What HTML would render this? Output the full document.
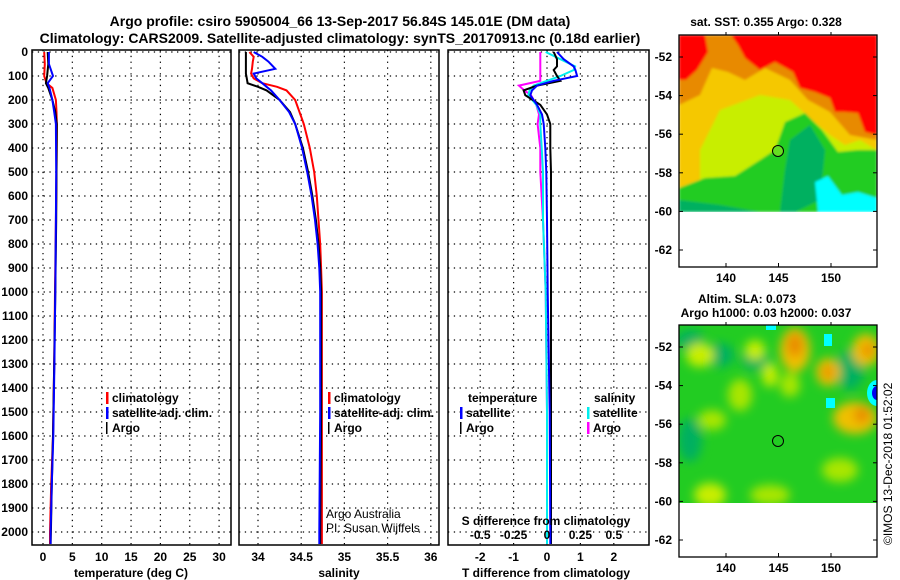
<!DOCTYPE html>
<html><head><meta charset="utf-8"><style>
body{margin:0;background:#fff}
svg{display:block;font-family:"Liberation Sans",sans-serif;font-weight:bold}
</style></head><body>
<svg id="s" width="900" height="580" viewBox="0 0 900 580" xmlns="http://www.w3.org/2000/svg">
<defs>
<filter id="bl" x="-50%" y="-50%" width="200%" height="200%"><feGaussianBlur stdDeviation="5"/></filter>
<filter id="bl2"><feGaussianBlur stdDeviation="1.2"/></filter>
<clipPath id="c1"><rect x="679" y="35" width="198" height="177"/></clipPath>
<clipPath id="c2"><rect x="679" y="325" width="198" height="178"/></clipPath>
</defs>
<text x="340" y="26" text-anchor="middle" font-size="14">Argo profile: csiro 5905004_66 13-Sep-2017 56.84S 145.01E (DM data)</text>
<text x="340" y="43" text-anchor="middle" font-size="14">Climatology: CARS2009. Satellite-adjusted climatology: synTS_20170913.nc (0.18d earlier)</text>

<g>
<g clip-path="url(#c1)" filter="url(#bl2)">
<rect x="679" y="35" width="198" height="177" fill="#e88a00"/>
<polygon fill="#f5c800" points="679,105 700,95 712,68 728,72 745,80 765,68 790,80 808,100 830,112 850,135 877,140 877,180 679,192"/>
<polygon fill="#c8ee00" points="700,150 720,110 760,95 790,100 812,120 830,135 845,145 860,140 877,150 877,185 760,175 700,185"/>
<polygon fill="#22cc22" points="679,188 705,178 735,176 760,160 775,150 785,122 805,113 822,130 838,152 858,150 877,150 877,212 679,212"/>
<polygon fill="#00b060" points="790,140 810,125 825,150 820,200 795,212 780,212 785,170"/>
<polygon fill="#00b060" points="679,200 720,205 760,212 679,212"/>
<polygon fill="#00ffff" points="815,182 828,176 842,195 858,192 877,198 877,212 818,212"/>
<polygon fill="#ff0000" points="731,35 877,35 877,135 865,132 858,113 845,112 835,112 830,98 815,92 800,88 793,72 775,62 760,70 745,58 738,45"/>
<polygon fill="#ff0000" points="679,35 705,35 708,52 697,70 686,80 679,80"/>
</g>
<rect x="679" y="212" width="198" height="55" fill="#fff"/>
<circle cx="778" cy="151" r="5.5" fill="#66dd22" stroke="#000" stroke-width="1"/>
<rect x="679" y="35" width="198" height="232" fill="none" stroke="#000" stroke-width="1.3"/>
<text x="766" y="26" text-anchor="middle" font-size="12">sat. SST: 0.355 Argo: 0.328</text>
</g>

<g>
<g clip-path="url(#c2)">
<rect x="679" y="325" width="198" height="178" fill="#22cc22"/>
<g filter="url(#bl)">
<ellipse cx="690" cy="340" rx="14" ry="10" fill="#00b060"/>
<ellipse cx="720" cy="355" rx="14" ry="12" fill="#00b060"/>
<ellipse cx="755" cy="360" rx="14" ry="10" fill="#00b060"/>
<ellipse cx="690" cy="440" rx="12" ry="22" fill="#00b060"/>
<ellipse cx="850" cy="370" rx="14" ry="20" fill="#00b060"/>
<ellipse cx="700" cy="355" rx="14" ry="12" fill="#c8ee00"/>
<ellipse cx="755" cy="350" rx="10" ry="10" fill="#c8ee00"/>
<ellipse cx="770" cy="375" rx="8" ry="12" fill="#c8ee00"/>
<ellipse cx="740" cy="395" rx="12" ry="16" fill="#a8e600"/>
<ellipse cx="712" cy="420" rx="14" ry="10" fill="#a8e600"/>
<ellipse cx="790" cy="385" rx="10" ry="12" fill="#a8e600"/>
<ellipse cx="710" cy="495" rx="16" ry="12" fill="#c8ee00"/>
<ellipse cx="770" cy="495" rx="20" ry="10" fill="#a8e600"/>
<ellipse cx="840" cy="470" rx="18" ry="12" fill="#a8e600"/>
<ellipse cx="795" cy="350" rx="15" ry="22" fill="#f0c000"/>
<ellipse cx="795" cy="345" rx="8" ry="12" fill="#e88a00"/>
<ellipse cx="828" cy="372" rx="12" ry="14" fill="#f0c000"/>
<ellipse cx="828" cy="372" rx="6" ry="7" fill="#e89000"/>
<ellipse cx="866" cy="350" rx="14" ry="16" fill="#f0c000"/>
<ellipse cx="868" cy="350" rx="6" ry="7" fill="#e88a00"/>
<ellipse cx="855" cy="418" rx="22" ry="16" fill="#f0c000"/>
<ellipse cx="862" cy="415" rx="8" ry="8" fill="#e88a00"/>
</g>
<rect x="824" y="334" width="8" height="12" fill="#00ffff"/>
<rect x="826" y="398" width="9" height="10" fill="#00ffff"/>
<rect x="766" y="325" width="10" height="5" fill="#00ffff"/>
<ellipse cx="877" cy="393" rx="10" ry="13" fill="#00ffff"/>
<ellipse cx="877" cy="393" rx="5" ry="7" fill="#0000ee"/>
</g>
<rect x="679" y="503" width="198" height="54" fill="#fff"/>
<circle cx="778" cy="441" r="5.5" fill="#22cc22" stroke="#000" stroke-width="1"/>
<rect x="679" y="325" width="198" height="232" fill="none" stroke="#000" stroke-width="1.3"/>
<text x="747" y="303" text-anchor="middle" font-size="12">Altim. SLA: 0.073</text>
<text x="766" y="317" text-anchor="middle" font-size="12">Argo h1000: 0.03 h2000: 0.037</text>
</g>
<text transform="translate(892,545) rotate(-90)" font-size="12" font-weight="normal">©IMOS 13-Dec-2018 01:52:02</text>
<g id="dyn"></g>
</svg>
<script>
const depthT = [0,50,100,130,150,200,250,300,500,700,1000,1300,1600,1800,2000,2050];
const argoT =  [0.8,0.9,0.7,0.5,0.9,1.6,2.1,2.35,2.3,2.25,2.1,1.9,1.7,1.5,1.35,1.3];
const climT =  [0.2,0.3,0.2,0.6,1.6,2.2,2.3,2.35,2.3,2.2,2.05,1.9,1.7,1.4,1.2,1.2];
const satT =   [1.0,1.0,1.7,0.8,1.1,1.6,1.9,2.2,2.25,2.2,2.1,1.95,1.75,1.5,1.3,1.3];
const depthS = [0,20,40,70,90,110,130,145,160,200,250,300,400,500,600,700,800,900,1000,1500,2000,2050];
const argoS =  [33.86,33.86,33.86,33.86,33.86,33.87,33.88,34.0,34.1,34.25,34.37,34.43,34.52,34.58,34.63,34.67,34.70,34.72,34.73,34.73,34.72,34.72];
const climS =  [33.90,33.95,33.94,33.93,33.92,33.95,34.05,34.22,34.33,34.43,34.48,34.53,34.60,34.65,34.68,34.70,34.72,34.73,34.74,34.74,34.74,34.74];
const satS =   [33.95,34.05,34.12,34.2,33.95,33.98,34.05,34.1,34.15,34.25,34.36,34.43,34.51,34.57,34.62,34.66,34.69,34.71,34.72,34.72,34.71,34.71];
const depthD = [0,30,60,75,100,120,140,160,180,220,260,300,400,500,700,1000,1500,2000,2050];
const dTargo = [0.2,0.3,0.3,0.2,0.3,0.4,-0.3,-0.7,-0.65,-0.2,0.0,0.1,0.1,0.12,0.12,0.12,0.12,0.12,0.12];
const dTsat =  [0.3,0.5,0.8,0.85,0.9,0.2,-0.3,-0.45,-0.5,-0.3,-0.15,-0.1,-0.05,-0.02,0.0,0.02,0.08,0.1,0.1];
const dSsat =  [-0.01,0.1,0.21,0.2,0.1,0.0,-0.1,-0.13,-0.14,-0.08,-0.05,-0.05,-0.04,-0.03,-0.03,-0.01,0.0,0.0,0.0];
const dSargo = [-0.05,-0.05,-0.05,-0.05,-0.05,-0.05,-0.21,-0.17,-0.12,-0.08,-0.06,-0.07,-0.05,-0.05,-0.03,-0.01,0.0,0.0,0.0];
const depthTicks = [0,100,200,300,400,500,600,700,800,900,1000,1100,1200,1300,1400,1500,1600,1700,1800,1900,2000];
const tTicks = [0,5,10,15,20,25,30];
const sTicks = [34,34.5,35,35.5,36];
const dTTicks = [-2,-1,0,1,2];
const dSTicks = ["-0.5","-0.25","0","0.25","0.5"];
const latTicks = [-52,-54,-56,-58,-60,-62];
const lonTicks = [140,145,150];

const NS="http://www.w3.org/2000/svg";
const root=document.getElementById('dyn');
function mk(tag,a,parent){const e=document.createElementNS(NS,tag);for(const k in a)e.setAttribute(k,a[k]);(parent||root).appendChild(e);return e;}
function txt(x,y,s,size,anchor,parent){const e=mk('text',{x:x,y:y,'font-size':size,'text-anchor':anchor||'middle'},parent);e.textContent=s;return e;}

const Y=d=>52+d*0.24;
const TOP=50,BOT=545;
const xT=v=>43+v*5.87;
const xS=v=>258+(v-34)*86.4;
const xDT=v=>547+v*33.4;
const xDS=v=>547+v*133.6;

function panel(x0,x1,name,vgrid){
  const g=mk('g',{});
  
  
  depthTicks.forEach(d=>{const l=mk('line',{x1:x0,x2:x1,y1:Y(d),y2:Y(d),stroke:'#000','stroke-dasharray':'1.3,4.5','stroke-width':1.2},g);
    
    });
  vgrid.forEach(x=>{const l=mk('line',{x1:x,x2:x,y1:TOP,y2:BOT,stroke:'#000','stroke-dasharray':'1.3,4.5','stroke-width':1.2},g);
    
    });
  return g;
}
function frame(x0,x1,name){
  const r=mk('rect',{x:x0,y:TOP,width:x1-x0,height:BOT-TOP,fill:'none',stroke:'#000','stroke-width':1.5});
  
  
}
function line(xs,ds,xf,color,w,name){
  const pts=xs.map((v,i)=>xf(v).toFixed(1)+','+Y(ds[i]).toFixed(1)).join(' ');
  const p=mk('polyline',{points:pts,fill:'none',stroke:color,'stroke-width':w});
  
  
}
function legend(x,y,items){
  items.forEach((it,i)=>{
    const b=mk('rect',{x:x,y:y+i*15-10,width:it[2]||2.5,height:12,fill:it[0]});
    
    
    const t=txt(x+6,y+i*15,it[1],12,'start');
    
    
  });
}

panel(32,231,'temperature-grid',tTicks.map(xT));
line(climT,depthT,xT,'#f00',2,'temperature-climatology-line');
line(argoT,depthT,xT,'#000',2,'temperature-argo-line');
line(satT,depthT,xT,'#00f',2,'temperature-satellite-line');
frame(32,231,'temperature-axes');
depthTicks.forEach(d=>{const t=txt(28,Y(d)+4,String(d),12,'end');
  
  });
tTicks.forEach(v=>{const t=txt(xT(v),561,String(v),12);
  
  });
let t1=txt(131,577,'temperature (deg C)',12);


legend(106,402,[['#f00','climatology'],['#00f','satellite-adj. clim.'],['#000','Argo',1.5]]);

panel(239,439,'salinity-grid',sTicks.map(xS));
line(climS,depthS,xS,'#f00',2,'salinity-climatology-line');
line(argoS,depthS,xS,'#000',2,'salinity-argo-line');
line(satS,depthS,xS,'#00f',2,'salinity-satellite-line');
frame(239,439,'salinity-axes');
sTicks.forEach(v=>{const t=txt(xS(v),561,String(v),12);
  
  });
let t2=txt(339,577,'salinity',12);


legend(328,402,[['#f00','climatology'],['#00f','satellite-adj. clim.'],['#000','Argo',1.5]]);
let c1=txt(326,518,'Argo Australia',12,'start');c1.setAttribute('font-weight','normal');


let c2=txt(326,532,'PI: Susan Wijffels',12,'start');c2.setAttribute('font-weight','normal');



panel(448,649,'difference-grid',dTTicks.map(xDT));
line(dSargo,depthD,xDS,'#f0f',2,'salinity-argo-diff-line');
line(dSsat,depthD,xDS,'#0ee',2,'salinity-satellite-diff-line');
line(dTargo,depthD,xDT,'#000',2,'temperature-argo-diff-line');
line(dTsat,depthD,xDT,'#00f',2,'temperature-satellite-diff-line');
frame(448,649,'difference-axes');
dTTicks.forEach(v=>{const t=txt(xDT(v),561,String(v),12);
  
  });
dSTicks.forEach((s,i)=>{const t=txt(xDT(dTTicks[i]),539,s,12);
  
  });
let t3=txt(546,525,'S difference from climatology',12);


let t4=txt(546,577,'T difference from climatology',12);


let l1=txt(468,402,'temperature',12,'start');


let l2=txt(594,402,'salinity',12,'start');


legend(460,417,[['#00f','satellite'],['#000','Argo',1.5]]);
legend(587,417,[['#0ee','satellite'],['#f0f','Argo']]);

[[57,'sst'],[347,'sla']].forEach(m=>{
  const y0=m[0], top=m[1]=='sst'?35:325, bot=top+232;
  latTicks.forEach((v,i)=>{const y=y0+i*38.6;
    const t=txt(672,y+4,String(v),12,'end');
    
    
    mk('line',{x1:679,x2:683,y1:y,y2:y,stroke:'#000'});mk('line',{x1:873,x2:877,y1:y,y2:y,stroke:'#000'});});
  lonTicks.forEach(v=>{const x=726+(v-140)*10.5;
    const t=txt(x,bot+15,String(v),12);
    
    
    mk('line',{x1:x,x2:x,y1:bot,y2:bot-4,stroke:'#000'});mk('line',{x1:x,x2:x,y1:top,y2:top-3,stroke:'#000'});});
});
</script>
</body></html>
